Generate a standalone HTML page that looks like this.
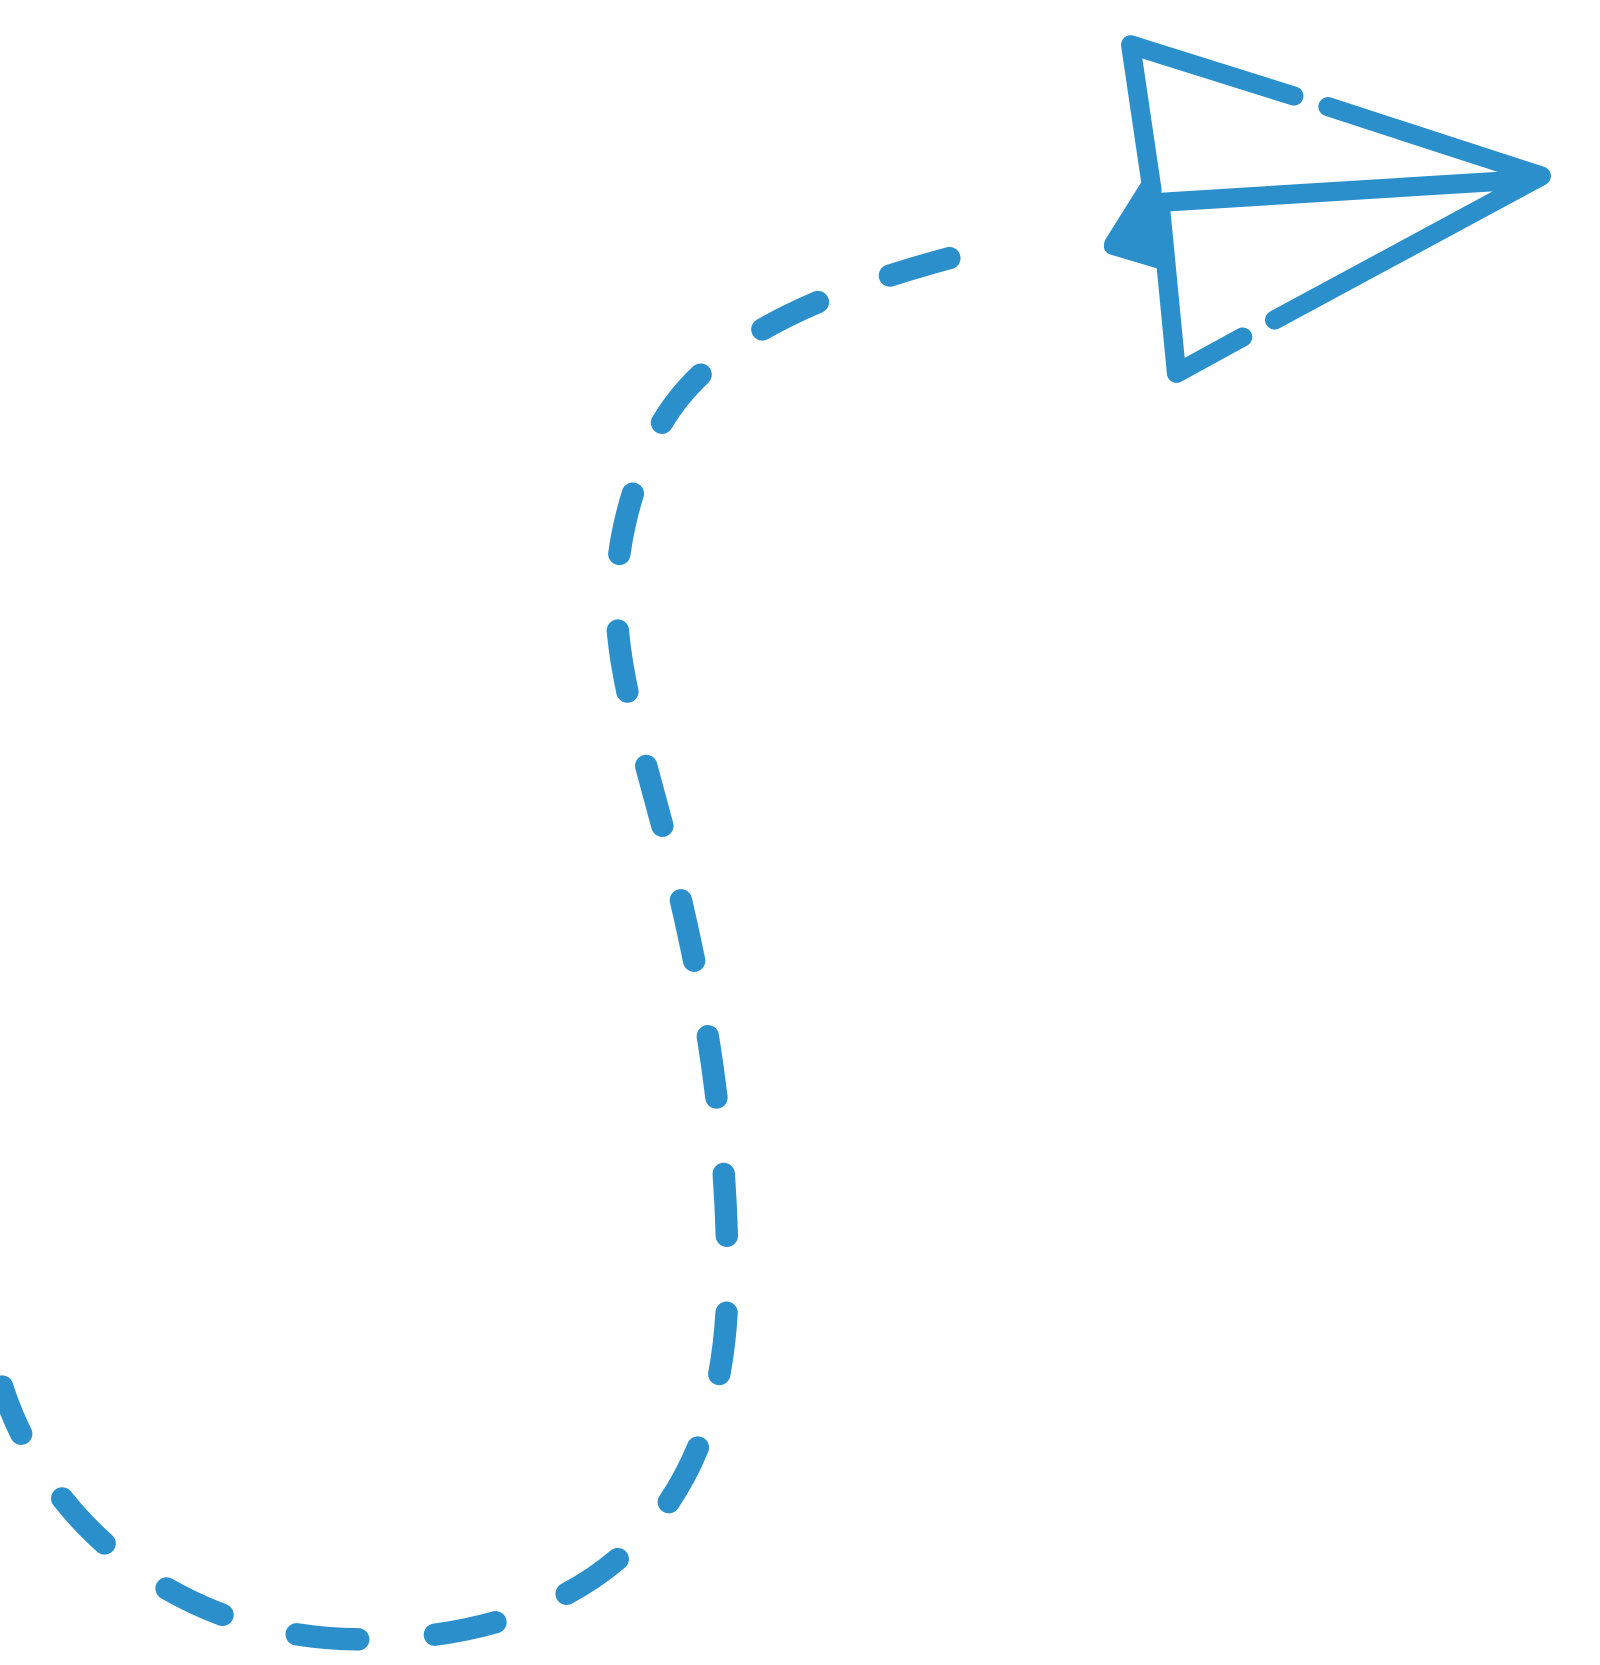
<!DOCTYPE html>
<html><head><style>html,body{margin:0;padding:0;background:#fff}svg{display:block}</style></head>
<body>
<svg width="1600" height="1665" viewBox="0 0 1500 1561" xmlns="http://www.w3.org/2000/svg">
<g fill="none" stroke="#2b8fcc" stroke-linecap="round" stroke-linejoin="round">
<path d="M 890 242 C 750 280 640 330 605 430 C 565 530 575 600 598 690 C 640 840 682 1000 682 1200 C 682 1450 520 1537 340 1537 C 160 1537 40 1420 2 1300" stroke-width="21" stroke-dasharray="58 72"/>
<g stroke-width="18">
<path d="M 1213 90 L 1060 42 L 1080 178"/>
<path d="M 1245 100 L 1445 165 L 1195 300"/>
<path d="M 1165 316 L 1103 350 L 1088 195"/>
<path d="M 1083 190 L 1438 168"/>
</g>
</g>
<path d="M 1073 166 L 1036 225 Q 1032 236 1042 239 L 1086 252 L 1092 190 Z" fill="#2b8fcc"/>
</svg>
</body></html>
